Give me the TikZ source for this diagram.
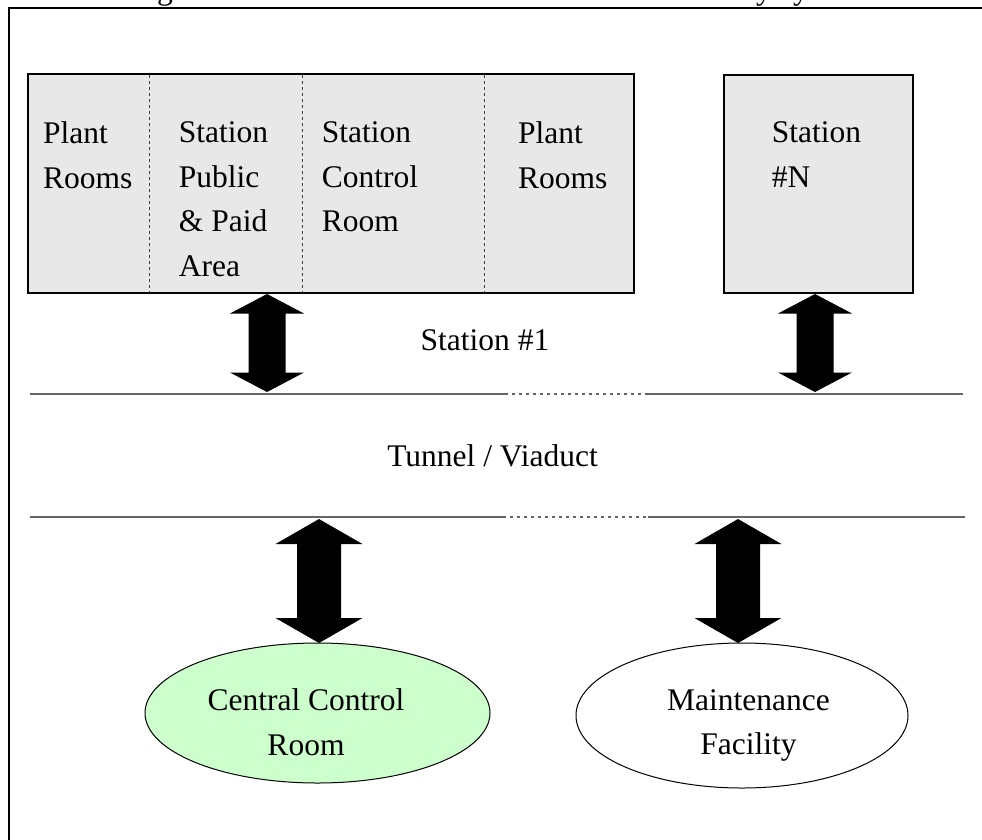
\documentclass[tikz,border=0pt]{standalone}
\usepackage{fontspec}
\setmainfont{Liberation Serif}
\usetikzlibrary{shapes.geometric,calc}
\definecolor{roomfill}{HTML}{E8E8E8}
\definecolor{ccrfill}{HTML}{CCFFCC}
\definecolor{railgray}{HTML}{666666}

% vertical double block arrow between two named points:
% #1 upper tip, #2 lower tip, #3 head half width, #4 shaft half width, #5 head length
\newcommand\blockarrow[5]{%
  \fill ($(#1)+(-#3,#5)$) -- (#1) -- ($(#1)+(#3,#5)$) -- ($(#1)+(#4,#5)$)
    -- ($(#2)+(#4,-#5)$) -- ($(#2)+(#3,-#5)$) -- (#2) -- ($(#2)+(-#3,-#5)$)
    -- ($(#2)+(-#4,-#5)$) -- ($(#1)+(-#4,#5)$) -- cycle;}

\tikzset{
  txt/.style={font=\fontsize{31.5}{44.5}\selectfont, inner sep=0pt},
  coltext/.style={txt, anchor=north west, align=left},
  stationbox/.style={draw, line width=2.2pt, fill=roomfill, rectangle, inner sep=0pt},
  divider/.style={draw=black!75, line width=0.9pt, dash pattern=on 3pt off 3pt},
  rail/.style={draw=railgray, line width=1.2pt},
  railgap/.style={draw=railgray, line width=1.2pt, dash pattern=on 3pt off 4pt},
  place/.style={draw, line width=1pt, ellipse, inner sep=0pt},
}

\begin{document}
\begin{tikzpicture}[x=1pt, y=-1pt]
\useasboundingbox (0,0) rectangle (982,839);
\clip (0,0) rectangle (982,839);

% caption line above the frame (only its descenders show)
\node[txt, anchor=base] (capg) at (165,-1) {g};
\node[txt, anchor=base] (capy1) at (764,-1) {y};
\node[txt, anchor=base] (capy2) at (801,-1) {y};

% frame
\draw[line width=2.3pt] (8.7,850) -- (8.7,7.7) -- (995,7.7);

% station #1 with its four areas
\node[stationbox, minimum width=606pt, minimum height=219pt] (st1) at (331,183.5) {};
\draw[divider] (149,75) -- (149,292);
\draw[divider] (302,75) -- (302,292);
\draw[divider] (484,75) -- (484,292);
\node[coltext] (plant1) at (42.8,121.5) {Plant\\Rooms};
\node[coltext] (public) at (178.7,121.5) {Station\\Public\\\& Paid\\Area};
\node[coltext] (scr) at (321.7,121.5) {Station\\Control\\Room};
\node[coltext] (plant2) at (517.8,121.5) {Plant\\Rooms};

% station #N
\node[stationbox, minimum width=189pt, minimum height=218pt] (stN) at (818.5,184) {};
\node[coltext] (stNtext) at (771.7,121.5) {Station\\\#N};

\node[txt, anchor=base] (st1label) at (485,350.5) {Station \#1};

% tunnel / viaduct corridor
\coordinate (railAw) at (30,394);
\coordinate (railAe) at (963,394);
\coordinate (railBw) at (30,517);
\coordinate (railBe) at (965,517);
\draw[rail] (railAw) -- (505,394);
\draw[railgap] (505,394) -- (648,394);
\draw[rail] (648,394) -- (railAe);
\draw[rail] (railBw) -- (503,517);
\draw[railgap] (503,517) -- (648,517);
\draw[rail] (648,517) -- (railBe);
\node[txt, anchor=base] (tunnel) at (492.5,466) {Tunnel / Viaduct};

% central control room and maintenance facility
\node[place, fill=ccrfill, minimum width=345pt, minimum height=140pt] (ccr) at (317.5,713) {};
\node[txt, align=center] (ccrtext) at (306,722) {Central Control\\Room};
\node[place, minimum width=332pt, minimum height=145pt] (maint) at (742,715.5) {};
\node[txt, align=center] (mainttext) at (748.5,725.5) {Maintenance\\Facility};

% block arrows
\coordinate (a1t) at (267,294);  \coordinate (a1b) at (267,392);
\coordinate (a2t) at (815,294);  \coordinate (a2b) at (815,392);
\coordinate (a3t) at (319,519);  \coordinate (a3b) at (319,643);
\coordinate (a4t) at (738,519);  \coordinate (a4b) at (738,643);
\blockarrow{a1t}{a1b}{37}{18.5}{19.5}
\blockarrow{a2t}{a2b}{37}{18.5}{19.5}
\blockarrow{a3t}{a3b}{43.5}{22}{25}
\blockarrow{a4t}{a4b}{43.5}{22}{25}
\end{tikzpicture}
\end{document}
